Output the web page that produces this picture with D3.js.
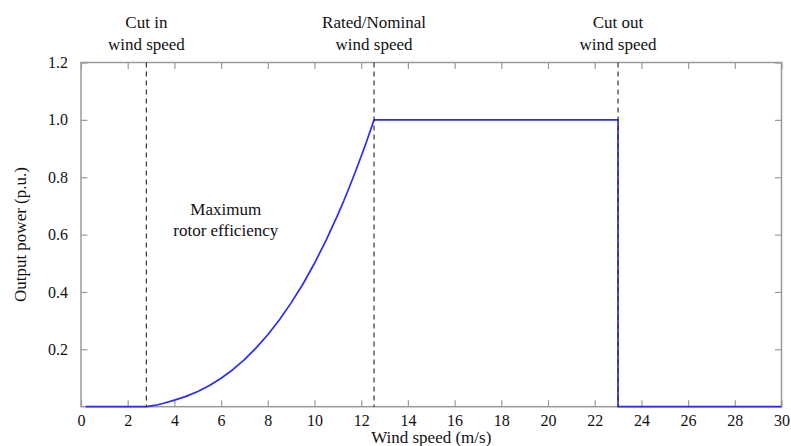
<!DOCTYPE html>
<html>
<head>
<meta charset="utf-8">
<script src="https://cdn.jsdelivr.net/npm/d3@7"></script>
<style>
  html, body { margin: 0; padding: 0; background: #fff; }
  svg { display: block; font-family: "Liberation Serif", "DejaVu Serif", serif; }
</style>
</head>
<body>
<svg id="chart" width="791" height="446"></svg>
<script>
// Wind turbine power curve: output power (p.u.) against wind speed (m/s)
const windSpeed = [0.2, 2.8, 3.0, 3.25, 3.5, 4.0, 4.5, 5.0, 5.5, 6.0, 6.5, 7.0, 7.5, 8.0, 8.5, 9.0, 9.5, 10.0, 10.5, 11.0, 11.25, 11.5, 11.75, 12.0, 12.25, 12.55, 23.0, 23.0, 30.0];
const outputPower = [0, 0, 0.003, 0.006, 0.011, 0.023, 0.036, 0.053, 0.074, 0.099, 0.129, 0.164, 0.205, 0.251, 0.303, 0.362, 0.427, 0.500, 0.581, 0.670, 0.717, 0.767, 0.819, 0.873, 0.929, 1.0, 1.0, 0, 0];

const markerSpeeds = [2.8, 12.55, 23.0];
const markerLabels = [["Cut in", "wind speed"], ["Rated/Nominal", "wind speed"], ["Cut out", "wind speed"]];

const xTicks = d3.range(0, 31, 2);
const yTicks = [0.2, 0.4, 0.6, 0.8, 1.0, 1.2];

const regionLabel = ["Maximum", "rotor efficiency"];
const regionLabelAt = { x: 6.2, y: 0.655 };

const margin = { left: 81, right: 9.5, top: 62.5, bottom: 39.3 };
const W = 791, H = 446;

const svg = d3.select("#chart");
const x = d3.scaleLinear().domain([0, 30]).range([margin.left, W - margin.right]);
const y = d3.scaleLinear().domain([0, 1.2]).range([H - margin.bottom, margin.top]);

const axisColor = "#9a9a9a";
const tickLen = 6.5;

// Inward ticks on all four sides
const g = svg.append("g");
const bottomAxis = d3.axisBottom(x).tickValues(xTicks).tickFormat(d3.format("d")).tickSize(-tickLen).tickPadding(8);
const topAxis = d3.axisTop(x).tickValues(xTicks).tickFormat("").tickSize(-tickLen);
const leftAxis = d3.axisLeft(y).tickValues(yTicks).tickFormat(d3.format(".1f")).tickSize(-tickLen).tickPadding(13);
const rightAxis = d3.axisRight(y).tickValues(yTicks).tickFormat("").tickSize(-tickLen);

function styleAxis(sel) {
  sel.select(".domain").remove();
  sel.selectAll(".tick line").attr("stroke", axisColor).attr("stroke-width", 1.2);
  sel.selectAll(".tick text").attr("fill", "#111").style("font-size", "16px")
     .style("font-family", "'Liberation Serif', serif");
}

g.append("g").attr("transform", `translate(0,${y(0)})`).call(bottomAxis).call(styleAxis);
g.append("g").attr("transform", `translate(0,${y(1.2)})`).call(topAxis).call(styleAxis);
g.append("g").attr("transform", `translate(${x(0)},0)`).call(leftAxis).call(styleAxis);
g.append("g").attr("transform", `translate(${x(30)},0)`).call(rightAxis).call(styleAxis);

// Frame
svg.append("rect")
  .attr("x", x(0)).attr("y", y(1.2))
  .attr("width", x(30) - x(0)).attr("height", y(0) - y(1.2))
  .attr("fill", "none").attr("stroke", axisColor).attr("stroke-width", 1.5);

// Power curve
const line = d3.line()
  .x((d, i) => x(windSpeed[i]))
  .y((d, i) => y(outputPower[i]));

svg.append("path")
  .datum(windSpeed)
  .attr("d", line)
  .attr("fill", "none")
  .attr("stroke", "#2b2bff")
  .attr("stroke-width", 1.7)
  .attr("stroke-linejoin", "round");

// Dashed markers for the characteristic wind speeds
svg.selectAll(".marker")
  .data(markerSpeeds)
  .join("line")
  .attr("class", "marker")
  .attr("x1", d => x(d)).attr("x2", d => x(d))
  .attr("y1", y(1.2)).attr("y2", y(0))
  .attr("stroke", "#333")
  .attr("stroke-width", 1.2)
  .attr("stroke-dasharray", "5,4");

// Labels above the plot
const lbl = svg.selectAll(".mlabel")
  .data(markerSpeeds)
  .join("text")
  .attr("class", "mlabel")
  .attr("text-anchor", "middle")
  .attr("fill", "#111")
  .style("font-size", "17px");
lbl.each(function (d, i) {
  const t = d3.select(this);
  markerLabels[i].forEach((s, j) => {
    t.append("tspan").attr("x", x(d)).attr("y", 28 + j * 22).text(s);
  });
});

// Region annotation
const rl = svg.append("text")
  .attr("text-anchor", "middle")
  .attr("fill", "#111")
  .style("font-size", "17px");
regionLabel.forEach((s, j) => {
  rl.append("tspan").attr("x", x(regionLabelAt.x)).attr("y", 215 + j * 21).text(s);
});

// Axis titles
svg.append("text")
  .attr("x", (x(0) + x(30)) / 2).attr("y", 443)
  .attr("text-anchor", "middle").attr("fill", "#111")
  .style("font-size", "17px")
  .text("Wind speed (m/s)");

svg.append("text")
  .attr("transform", `translate(26,${(y(0) + y(1.2)) / 2}) rotate(-90)`)
  .attr("text-anchor", "middle").attr("fill", "#111")
  .style("font-size", "17px")
  .text("Output power (p.u.)");
</script>
</body>
</html>
